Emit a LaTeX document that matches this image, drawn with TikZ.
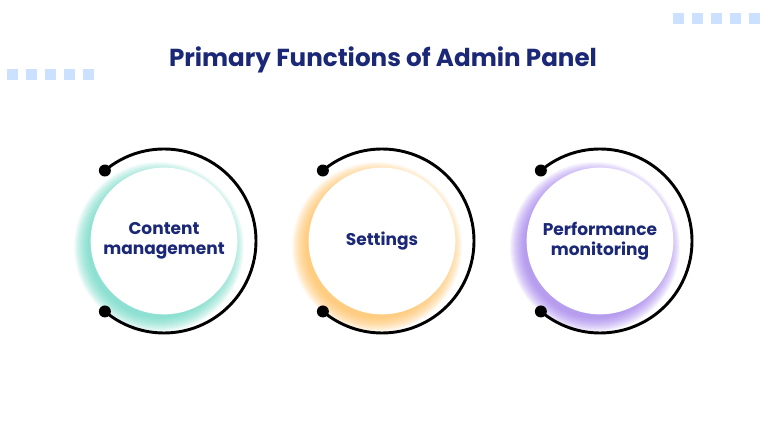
\documentclass[tikz,border=0pt]{standalone}
\usepackage{fontspec}
\setmainfont{Poppins}
\definecolor{navy}{HTML}{1B2877}
\definecolor{tile}{HTML}{CCE0FF}
\definecolor{glowteal}{HTML}{5ED8C2}
\definecolor{gloworange}{HTML}{FFBA4A}
\definecolor{glowpurple}{HTML}{9A72EE}
\tikzset{
  title/.style={font=\bfseries\fontsize{21}{24}\selectfont, text=navy},
  label/.style={font=\bfseries\fontsize{14.5}{17.5}\selectfont, text=navy, align=center},
  disc/.style={circle, fill=white, minimum size=4.4cm, inner sep=0pt},
  ring/.style={line width=2.5pt, black},
  tiles/.style={fill=tile}
}
\begin{document}
\begin{tikzpicture}[x=0.03cm,y=0.03cm]
        \useasboundingbox (0,0) rectangle (768,427);
        \fill[white] (0,0) rectangle (768,427);

        % Coordinates
        \coordinate (A) at (164,186);
        \coordinate (B) at (382,186);
        \coordinate (C) at (600,186);
        \coordinate (T) at (383,367);

        % Tiles
        \foreach \i in {0,...,4} {
          \fill[tiles] (673+19*\i,403) rectangle ++(11,11);
          \fill[tiles] (7+19*\i,347) rectangle ++(11,11);
        }

        % Title
        \node[title] (title) at (T) {Primary Functions of Admin Panel};

        % Glows
        \foreach \k in {0,...,14} {
          \fill[glowteal, opacity=0.07] ([shift={(-5,-6)}]A) circle[radius=71+\k];
          \fill[gloworange, opacity=0.07] ([shift={(-5,-6)}]B) circle[radius=71+\k];
          \fill[glowpurple, opacity=0.07] ([shift={(-5,-6)}]C) circle[radius=71+\k];
        }

        % Discs
        \node[disc, label] (content) at (A) {Content\\management};
        \node[disc, label] (settings) at (B) {Settings};
        \node[disc, label] (perf) at (C) {Performance\\monitoring};

        % Rings
        \draw[ring] ([shift={(130:92)}]A) arc[start angle=130, end angle=-130, radius=92];
        \draw[ring] ([shift={(130:92)}]B) arc[start angle=130, end angle=-130, radius=92];
        \draw[ring] ([shift={(130:92)}]C) arc[start angle=130, end angle=-130, radius=92];
        \fill ([shift={(130:92)}]A) circle[radius=6];
        \fill ([shift={(-130:92)}]A) circle[radius=6];
        \fill ([shift={(130:92)}]B) circle[radius=6];
        \fill ([shift={(-130:92)}]B) circle[radius=6];
        \fill ([shift={(130:92)}]C) circle[radius=6];
        \fill ([shift={(-130:92)}]C) circle[radius=6];
        \end{tikzpicture}
\end{document}
